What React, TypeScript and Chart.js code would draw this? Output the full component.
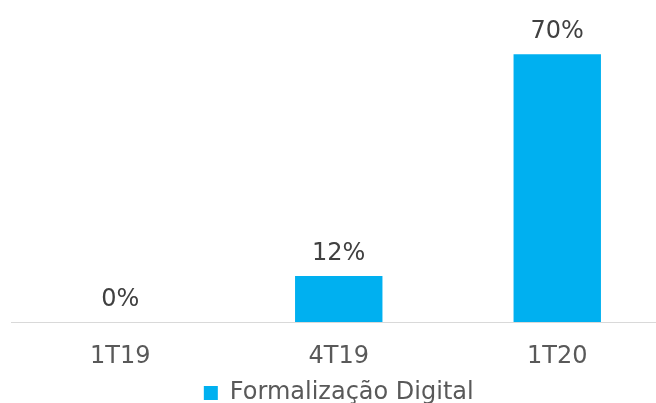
import React, { useEffect, useRef } from "react";
import { Chart, registerables } from "chart.js";

Chart.register(...registerables);

const categories = ["1T19", "4T19", "1T20"];
const seriesName = "Formalização Digital";
const values = [0, 12, 70];

const FONT = "'DejaVu Sans', Verdana, sans-serif";

const labelPlugin = {
  id: "barLabels",
  afterDatasetsDraw(chart: any) {
    const ctx = chart.ctx;
    const meta = chart.getDatasetMeta(0);
    ctx.save();
    ctx.font = `24px ${FONT}`;
    ctx.fillStyle = "#404040";
    ctx.textAlign = "center";
    ctx.textBaseline = "alphabetic";
    meta.data.forEach((bar: any, i: number) => {
      ctx.fillText(`${values[i]}%`, bar.x, bar.y - 16);
    });
    ctx.restore();
  },
};

export default function App() {
  const ref = useRef<HTMLCanvasElement | null>(null);
  useEffect(() => {
    document.body.style.overflow = "hidden";
    const chart = new Chart(ref.current!, {
      type: "bar",
      data: {
        labels: categories,
        datasets: [
          {
            label: seriesName,
            data: values,
            backgroundColor: "#00B0F0",
            barPercentage: 0.4,
            categoryPercentage: 1,
          },
        ],
      },
      options: {
        animation: false,
        responsive: false,
        layout: { padding: { left: 11, right: 13.5, top: 16, bottom: 5 } },
        scales: {
          x: {
            grid: { display: false },
            border: { display: true, color: "#d9d9d9", width: 1 },
            ticks: { color: "#595959", font: { family: FONT, size: 24 }, padding: 12.5 },
            afterFit: (scale: any) => {
              scale.height = 43;
            },
          },
          y: { display: false, min: 0, max: 80 },
        },
        plugins: {
          legend: {
            position: "bottom",
            labels: {
              color: "#595959",
              font: { family: FONT, size: 24 },
              boxWidth: 14,
              boxHeight: 14,
              padding: 16,
            },
          },
          tooltip: { enabled: false },
        },
      },
      plugins: [labelPlugin],
    });
    return () => chart.destroy();
  }, []);
  return (
    <div style={{ position: "absolute", left: 0, top: 0, width: 680, height: 420 }}>
      <canvas ref={ref} width={680} height={420} style={{ width: 680, height: 420 }} />
    </div>
  );
}
